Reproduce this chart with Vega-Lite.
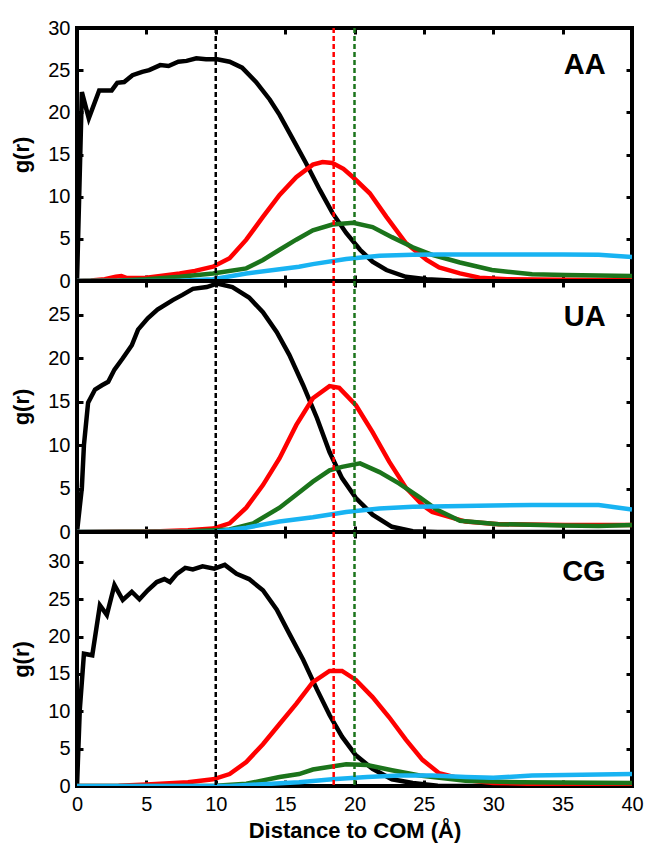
{
  "$schema": "https://vega.github.io/schema/vega-lite/v6.json",
  "padding": {"left": 8, "top": 16, "right": 4, "bottom": 4},
  "spacing": 0,
  "bounds": "flush",
  "config": {
    "font": "Liberation Sans",
    "view": {"stroke": "black", "strokeWidth": 4},
    "axis": {"grid": false, "domain": false, "tickSize": -6, "tickWidth": 3, "tickColor": "black", "labelFlush": false, "labelOverlap": false, "labelColor": "black", "labelFontSize": 20, "titleColor": "black", "titleFontSize": 22, "titleFontWeight": "bold"}
  },
  "datasets": {
    "curves": [
      {"p":"AA","s":"s1","r":0,"g":0},{"p":"AA","s":"s1","r":0.35,"g":22.4},{"p":"AA","s":"s1","r":0.85,"g":19.3},{"p":"AA","s":"s1","r":1.6,"g":22.6},{"p":"AA","s":"s1","r":2.5,"g":22.6},{"p":"AA","s":"s1","r":2.9,"g":23.5},{"p":"AA","s":"s1","r":3.4,"g":23.6},{"p":"AA","s":"s1","r":4.0,"g":24.4},{"p":"AA","s":"s1","r":4.7,"g":24.8},{"p":"AA","s":"s1","r":5.2,"g":25.0},{"p":"AA","s":"s1","r":6.0,"g":25.6},{"p":"AA","s":"s1","r":6.6,"g":25.5},{"p":"AA","s":"s1","r":7.3,"g":26.0},{"p":"AA","s":"s1","r":7.9,"g":26.1},{"p":"AA","s":"s1","r":8.6,"g":26.4},{"p":"AA","s":"s1","r":9.3,"g":26.3},{"p":"AA","s":"s1","r":10.1,"g":26.3},{"p":"AA","s":"s1","r":11.0,"g":26.0},{"p":"AA","s":"s1","r":11.9,"g":25.3},{"p":"AA","s":"s1","r":12.9,"g":23.6},{"p":"AA","s":"s1","r":13.9,"g":21.5},{"p":"AA","s":"s1","r":14.6,"g":19.7},{"p":"AA","s":"s1","r":15.5,"g":17.0},{"p":"AA","s":"s1","r":16.5,"g":14.0},{"p":"AA","s":"s1","r":17.5,"g":10.8},{"p":"AA","s":"s1","r":18.4,"g":8.1},{"p":"AA","s":"s1","r":19.4,"g":5.7},{"p":"AA","s":"s1","r":20.4,"g":3.7},{"p":"AA","s":"s1","r":21.3,"g":2.3},{"p":"AA","s":"s1","r":22.3,"g":1.3},{"p":"AA","s":"s1","r":23.7,"g":0.5},{"p":"AA","s":"s1","r":25.2,"g":0.2},{"p":"AA","s":"s1","r":27,"g":0.05},{"p":"AA","s":"s1","r":30,"g":0},{"p":"AA","s":"s1","r":40,"g":0},
      {"p":"AA","s":"s2","r":0,"g":0},{"p":"AA","s":"s2","r":1,"g":0.05},{"p":"AA","s":"s2","r":2,"g":0.2},{"p":"AA","s":"s2","r":2.8,"g":0.5},{"p":"AA","s":"s2","r":3.2,"g":0.6},{"p":"AA","s":"s2","r":3.6,"g":0.35},{"p":"AA","s":"s2","r":5,"g":0.4},{"p":"AA","s":"s2","r":6,"g":0.6},{"p":"AA","s":"s2","r":7.4,"g":0.9},{"p":"AA","s":"s2","r":8.5,"g":1.2},{"p":"AA","s":"s2","r":9.8,"g":1.7},{"p":"AA","s":"s2","r":11.0,"g":2.7},{"p":"AA","s":"s2","r":12.2,"g":4.9},{"p":"AA","s":"s2","r":13.4,"g":7.6},{"p":"AA","s":"s2","r":14.6,"g":10.2},{"p":"AA","s":"s2","r":15.8,"g":12.3},{"p":"AA","s":"s2","r":17.0,"g":13.8},{"p":"AA","s":"s2","r":17.7,"g":14.1},{"p":"AA","s":"s2","r":18.4,"g":14.0},{"p":"AA","s":"s2","r":19.2,"g":13.3},{"p":"AA","s":"s2","r":19.9,"g":12.3},{"p":"AA","s":"s2","r":21.1,"g":10.4},{"p":"AA","s":"s2","r":22.3,"g":7.6},{"p":"AA","s":"s2","r":23.7,"g":4.5},{"p":"AA","s":"s2","r":25.2,"g":2.5},{"p":"AA","s":"s2","r":26.1,"g":1.6},{"p":"AA","s":"s2","r":27.6,"g":0.9},{"p":"AA","s":"s2","r":29,"g":0.4},{"p":"AA","s":"s2","r":31,"g":0.2},{"p":"AA","s":"s2","r":35,"g":0.15},{"p":"AA","s":"s2","r":40,"g":0.1},
      {"p":"AA","s":"s3","r":0,"g":0},{"p":"AA","s":"s3","r":3,"g":0.05},{"p":"AA","s":"s3","r":5,"g":0.2},{"p":"AA","s":"s3","r":7.4,"g":0.5},{"p":"AA","s":"s3","r":9.8,"g":0.9},{"p":"AA","s":"s3","r":12.2,"g":1.5},{"p":"AA","s":"s3","r":13.4,"g":2.5},{"p":"AA","s":"s3","r":14.6,"g":3.7},{"p":"AA","s":"s3","r":15.8,"g":4.9},{"p":"AA","s":"s3","r":17.0,"g":6.0},{"p":"AA","s":"s3","r":18.4,"g":6.7},{"p":"AA","s":"s3","r":19.9,"g":6.9},{"p":"AA","s":"s3","r":21.3,"g":6.4},{"p":"AA","s":"s3","r":22.7,"g":5.2},{"p":"AA","s":"s3","r":24.2,"g":4.0},{"p":"AA","s":"s3","r":25.6,"g":3.1},{"p":"AA","s":"s3","r":27.6,"g":2.2},{"p":"AA","s":"s3","r":29.9,"g":1.3},{"p":"AA","s":"s3","r":32.8,"g":0.8},{"p":"AA","s":"s3","r":35.2,"g":0.7},{"p":"AA","s":"s3","r":40,"g":0.6},
      {"p":"AA","s":"s4","r":0,"g":0},{"p":"AA","s":"s4","r":7,"g":0},{"p":"AA","s":"s4","r":9.8,"g":0.2},{"p":"AA","s":"s4","r":12.2,"g":0.9},{"p":"AA","s":"s4","r":14.6,"g":1.4},{"p":"AA","s":"s4","r":16,"g":1.7},{"p":"AA","s":"s4","r":17.0,"g":2.0},{"p":"AA","s":"s4","r":19.4,"g":2.6},{"p":"AA","s":"s4","r":21.8,"g":3.0},{"p":"AA","s":"s4","r":24.2,"g":3.1},{"p":"AA","s":"s4","r":26,"g":3.15},{"p":"AA","s":"s4","r":30,"g":3.15},{"p":"AA","s":"s4","r":35,"g":3.15},{"p":"AA","s":"s4","r":37.6,"g":3.1},{"p":"AA","s":"s4","r":40,"g":2.85},

      {"p":"UA","s":"s1","r":0,"g":0},{"p":"UA","s":"s1","r":0.35,"g":5.1},{"p":"UA","s":"s1","r":0.5,"g":10.0},{"p":"UA","s":"s1","r":0.8,"g":14.9},{"p":"UA","s":"s1","r":1.3,"g":16.4},{"p":"UA","s":"s1","r":1.8,"g":16.9},{"p":"UA","s":"s1","r":2.25,"g":17.3},{"p":"UA","s":"s1","r":2.7,"g":18.7},{"p":"UA","s":"s1","r":3.3,"g":20.0},{"p":"UA","s":"s1","r":3.95,"g":21.5},{"p":"UA","s":"s1","r":4.4,"g":23.3},{"p":"UA","s":"s1","r":5.1,"g":24.6},{"p":"UA","s":"s1","r":5.8,"g":25.6},{"p":"UA","s":"s1","r":6.9,"g":26.7},{"p":"UA","s":"s1","r":7.6,"g":27.3},{"p":"UA","s":"s1","r":8.35,"g":28.0},{"p":"UA","s":"s1","r":9.35,"g":28.2},{"p":"UA","s":"s1","r":10.1,"g":28.6},{"p":"UA","s":"s1","r":11.2,"g":28.2},{"p":"UA","s":"s1","r":12.4,"g":27.0},{"p":"UA","s":"s1","r":13.4,"g":25.3},{"p":"UA","s":"s1","r":14.4,"g":23.0},{"p":"UA","s":"s1","r":15.3,"g":20.4},{"p":"UA","s":"s1","r":16.3,"g":16.9},{"p":"UA","s":"s1","r":17.3,"g":13.1},{"p":"UA","s":"s1","r":18.2,"g":9.2},{"p":"UA","s":"s1","r":19.1,"g":6.2},{"p":"UA","s":"s1","r":20.1,"g":3.9},{"p":"UA","s":"s1","r":21.3,"g":2.0},{"p":"UA","s":"s1","r":22.7,"g":0.6},{"p":"UA","s":"s1","r":24.2,"g":0.1},{"p":"UA","s":"s1","r":26,"g":0},{"p":"UA","s":"s1","r":40,"g":0},
      {"p":"UA","s":"s2","r":0,"g":0},{"p":"UA","s":"s2","r":3,"g":0.05},{"p":"UA","s":"s2","r":6,"g":0.1},{"p":"UA","s":"s2","r":8,"g":0.2},{"p":"UA","s":"s2","r":9.8,"g":0.4},{"p":"UA","s":"s2","r":11.0,"g":1.0},{"p":"UA","s":"s2","r":12.2,"g":2.8},{"p":"UA","s":"s2","r":13.4,"g":5.4},{"p":"UA","s":"s2","r":14.6,"g":8.5},{"p":"UA","s":"s2","r":15.8,"g":12.3},{"p":"UA","s":"s2","r":17.0,"g":15.4},{"p":"UA","s":"s2","r":18.2,"g":16.8},{"p":"UA","s":"s2","r":18.9,"g":16.6},{"p":"UA","s":"s2","r":20.1,"g":14.6},{"p":"UA","s":"s2","r":21.3,"g":11.5},{"p":"UA","s":"s2","r":22.5,"g":8.1},{"p":"UA","s":"s2","r":23.7,"g":5.1},{"p":"UA","s":"s2","r":24.9,"g":3.1},{"p":"UA","s":"s2","r":25.6,"g":2.3},{"p":"UA","s":"s2","r":28,"g":1.2},{"p":"UA","s":"s2","r":30.4,"g":0.9},{"p":"UA","s":"s2","r":35.2,"g":0.8},{"p":"UA","s":"s2","r":40,"g":0.8},
      {"p":"UA","s":"s3","r":0,"g":0},{"p":"UA","s":"s3","r":8,"g":0.05},{"p":"UA","s":"s3","r":11,"g":0.3},{"p":"UA","s":"s3","r":12.7,"g":1.0},{"p":"UA","s":"s3","r":14.6,"g":2.8},{"p":"UA","s":"s3","r":15.8,"g":4.3},{"p":"UA","s":"s3","r":17.0,"g":5.8},{"p":"UA","s":"s3","r":18.2,"g":7.1},{"p":"UA","s":"s3","r":19.1,"g":7.5},{"p":"UA","s":"s3","r":20.4,"g":7.9},{"p":"UA","s":"s3","r":21.8,"g":6.9},{"p":"UA","s":"s3","r":23.2,"g":5.6},{"p":"UA","s":"s3","r":24.7,"g":4.0},{"p":"UA","s":"s3","r":25.9,"g":2.6},{"p":"UA","s":"s3","r":27.6,"g":1.3},{"p":"UA","s":"s3","r":30.4,"g":0.9},{"p":"UA","s":"s3","r":35,"g":0.75},{"p":"UA","s":"s3","r":37.6,"g":0.7},{"p":"UA","s":"s3","r":40,"g":0.8},
      {"p":"UA","s":"s4","r":0,"g":0},{"p":"UA","s":"s4","r":9.8,"g":0},{"p":"UA","s":"s4","r":12.2,"g":0.5},{"p":"UA","s":"s4","r":14.6,"g":1.2},{"p":"UA","s":"s4","r":17.0,"g":1.7},{"p":"UA","s":"s4","r":19.4,"g":2.3},{"p":"UA","s":"s4","r":21.8,"g":2.7},{"p":"UA","s":"s4","r":24.2,"g":2.9},{"p":"UA","s":"s4","r":25.6,"g":2.95},{"p":"UA","s":"s4","r":30,"g":3.05},{"p":"UA","s":"s4","r":32.8,"g":3.1},{"p":"UA","s":"s4","r":37.6,"g":3.1},{"p":"UA","s":"s4","r":40,"g":2.6},

      {"p":"CG","s":"s1","r":0,"g":0},{"p":"CG","s":"s1","r":0.2,"g":10.2},{"p":"CG","s":"s1","r":0.5,"g":17.7},{"p":"CG","s":"s1","r":1.1,"g":17.5},{"p":"CG","s":"s1","r":1.65,"g":24.2},{"p":"CG","s":"s1","r":2.15,"g":22.9},{"p":"CG","s":"s1","r":2.7,"g":26.9},{"p":"CG","s":"s1","r":3.3,"g":24.9},{"p":"CG","s":"s1","r":3.95,"g":26.0},{"p":"CG","s":"s1","r":4.5,"g":25.0},{"p":"CG","s":"s1","r":5.1,"g":26.2},{"p":"CG","s":"s1","r":5.75,"g":27.3},{"p":"CG","s":"s1","r":6.3,"g":27.7},{"p":"CG","s":"s1","r":6.7,"g":27.3},{"p":"CG","s":"s1","r":7.2,"g":28.4},{"p":"CG","s":"s1","r":7.8,"g":29.2},{"p":"CG","s":"s1","r":8.35,"g":29.0},{"p":"CG","s":"s1","r":9.05,"g":29.4},{"p":"CG","s":"s1","r":9.9,"g":29.1},{"p":"CG","s":"s1","r":10.65,"g":29.6},{"p":"CG","s":"s1","r":11.5,"g":28.4},{"p":"CG","s":"s1","r":12.4,"g":27.7},{"p":"CG","s":"s1","r":13.4,"g":26.2},{"p":"CG","s":"s1","r":14.4,"g":23.6},{"p":"CG","s":"s1","r":15.3,"g":20.4},{"p":"CG","s":"s1","r":16.3,"g":16.9},{"p":"CG","s":"s1","r":17.3,"g":12.9},{"p":"CG","s":"s1","r":18.2,"g":9.5},{"p":"CG","s":"s1","r":19.1,"g":6.6},{"p":"CG","s":"s1","r":20.1,"g":4.1},{"p":"CG","s":"s1","r":21.3,"g":2.3},{"p":"CG","s":"s1","r":22.7,"g":0.9},{"p":"CG","s":"s1","r":24.2,"g":0.4},{"p":"CG","s":"s1","r":26,"g":0.05},{"p":"CG","s":"s1","r":28,"g":0},{"p":"CG","s":"s1","r":40,"g":0},
      {"p":"CG","s":"s2","r":0,"g":0},{"p":"CG","s":"s2","r":3,"g":0.05},{"p":"CG","s":"s2","r":5,"g":0.2},{"p":"CG","s":"s2","r":8,"g":0.5},{"p":"CG","s":"s2","r":9.8,"g":0.9},{"p":"CG","s":"s2","r":11.0,"g":1.6},{"p":"CG","s":"s2","r":12.2,"g":3.2},{"p":"CG","s":"s2","r":13.4,"g":5.6},{"p":"CG","s":"s2","r":14.6,"g":8.3},{"p":"CG","s":"s2","r":15.8,"g":11.0},{"p":"CG","s":"s2","r":17.0,"g":13.9},{"p":"CG","s":"s2","r":18.2,"g":15.4},{"p":"CG","s":"s2","r":19.1,"g":15.4},{"p":"CG","s":"s2","r":20.1,"g":14.2},{"p":"CG","s":"s2","r":21.3,"g":11.9},{"p":"CG","s":"s2","r":22.5,"g":9.2},{"p":"CG","s":"s2","r":23.7,"g":6.2},{"p":"CG","s":"s2","r":24.9,"g":3.5},{"p":"CG","s":"s2","r":26.1,"g":1.7},{"p":"CG","s":"s2","r":28,"g":0.8},{"p":"CG","s":"s2","r":30,"g":0.4},{"p":"CG","s":"s2","r":35,"g":0.2},{"p":"CG","s":"s2","r":40,"g":0.2},
      {"p":"CG","s":"s3","r":0,"g":0},{"p":"CG","s":"s3","r":10,"g":0.05},{"p":"CG","s":"s3","r":12.2,"g":0.3},{"p":"CG","s":"s3","r":14.6,"g":1.2},{"p":"CG","s":"s3","r":16,"g":1.6},{"p":"CG","s":"s3","r":17.0,"g":2.2},{"p":"CG","s":"s3","r":19.4,"g":2.9},{"p":"CG","s":"s3","r":20.9,"g":2.8},{"p":"CG","s":"s3","r":22.7,"g":2.1},{"p":"CG","s":"s3","r":24.7,"g":1.4},{"p":"CG","s":"s3","r":28,"g":0.7},{"p":"CG","s":"s3","r":32,"g":0.5},{"p":"CG","s":"s3","r":40,"g":0.4},
      {"p":"CG","s":"s4","r":0,"g":0},{"p":"CG","s":"s4","r":11,"g":0},{"p":"CG","s":"s4","r":13,"g":0.2},{"p":"CG","s":"s4","r":16,"g":0.5},{"p":"CG","s":"s4","r":18.4,"g":0.9},{"p":"CG","s":"s4","r":20.9,"g":1.2},{"p":"CG","s":"s4","r":23.2,"g":1.4},{"p":"CG","s":"s4","r":25.6,"g":1.4},{"p":"CG","s":"s4","r":28,"g":1.2},{"p":"CG","s":"s4","r":30,"g":1.1},{"p":"CG","s":"s4","r":32.8,"g":1.4},{"p":"CG","s":"s4","r":36.4,"g":1.5},{"p":"CG","s":"s4","r":40,"g":1.6}
    ],
    "refs": [{"s":"s1","r":10},{"s":"s2","r":18.5},{"s":"s3","r":20}],
    "labels": [{"p":"AA","r":38.1,"g":25.6},{"p":"UA","r":38.1,"g":24.7},{"p":"CG","r":38.1,"g":28.6}]
  },
  "vconcat": [
    {
      "width": 555, "height": 253,
      "resolve": {"axis": {"x": "independent", "y": "independent"}},
      "layer": [
        {"data": {"name": "curves"}, "transform": [{"filter": "datum.p === 'AA'"}],
         "mark": {"type": "line", "strokeWidth": 4.5, "clip": true},
         "encoding": {
           "x": {"field": "r", "type": "quantitative", "scale": {"domain": [0, 40]}, "axis": {"orient": "bottom", "values": [0,5,10,15,20,25,30,35,40], "labels": false, "title": null}},
           "y": {"field": "g", "type": "quantitative", "scale": {"domain": [0, 30]}, "axis": {"orient": "left", "values": [0,5,10,15,20,25,30], "labelPadding": 13, "title": "g(r)", "titlePadding": 14}},
           "color": {"field": "s", "type": "nominal", "scale": {"domain": ["s1","s2","s3","s4"], "range": ["#000000","#ff0000","#1b741b","#18b3f2"]}, "legend": null}
         }},
        {"data": {"name": "refs"},
         "mark": {"type": "rule", "strokeDash": [5, 3], "strokeWidth": 2.5},
         "encoding": {
           "x": {"field": "r", "type": "quantitative", "axis": null},
           "color": {"field": "s", "type": "nominal", "legend": null}
         }},
        {"data": {"name": "labels"}, "transform": [{"filter": "datum.p === 'AA'"}],
         "mark": {"type": "text", "align": "right", "baseline": "middle", "fontSize": 29, "fontWeight": "bold", "color": "black"},
         "encoding": {
           "x": {"field": "r", "type": "quantitative", "axis": {"orient": "top", "values": [0,5,10,15,20,25,30,35,40], "labels": false, "title": null}},
           "y": {"field": "g", "type": "quantitative", "axis": {"orient": "right", "values": [0,5,10,15,20,25,30], "labels": false, "title": null}},
           "text": {"field": "p"}
         }}
      ]
    },
    {
      "width": 555, "height": 251,
      "resolve": {"axis": {"x": "independent", "y": "independent"}},
      "layer": [
        {"data": {"name": "curves"}, "transform": [{"filter": "datum.p === 'UA'"}],
         "mark": {"type": "line", "strokeWidth": 4.5, "clip": true},
         "encoding": {
           "x": {"field": "r", "type": "quantitative", "scale": {"domain": [0, 40]}, "axis": {"orient": "bottom", "values": [0,5,10,15,20,25,30,35,40], "labels": false, "title": null}},
           "y": {"field": "g", "type": "quantitative", "scale": {"domain": [0, 28.9], "nice": false}, "axis": {"orient": "left", "values": [0,5,10,15,20,25], "labelPadding": 13, "title": "g(r)", "titlePadding": 14}},
           "color": {"field": "s", "type": "nominal", "scale": {"domain": ["s1","s2","s3","s4"], "range": ["#000000","#ff0000","#1b741b","#18b3f2"]}, "legend": null}
         }},
        {"data": {"name": "refs"},
         "mark": {"type": "rule", "strokeDash": [5, 3], "strokeWidth": 2.5},
         "encoding": {
           "x": {"field": "r", "type": "quantitative", "axis": null},
           "color": {"field": "s", "type": "nominal", "legend": null}
         }},
        {"data": {"name": "labels"}, "transform": [{"filter": "datum.p === 'UA'"}],
         "mark": {"type": "text", "align": "right", "baseline": "middle", "fontSize": 29, "fontWeight": "bold", "color": "black"},
         "encoding": {
           "x": {"field": "r", "type": "quantitative", "axis": {"orient": "top", "values": [0,5,10,15,20,25,30,35,40], "labels": false, "title": null}},
           "y": {"field": "g", "type": "quantitative", "axis": {"orient": "right", "values": [0,5,10,15,20,25], "labels": false, "title": null}},
           "text": {"field": "p"}
         }}
      ]
    },
    {
      "width": 555, "height": 254,
      "resolve": {"axis": {"x": "independent", "y": "independent"}},
      "layer": [
        {"data": {"name": "curves"}, "transform": [{"filter": "datum.p === 'CG'"}],
         "mark": {"type": "line", "strokeWidth": 4.5, "clip": true},
         "encoding": {
           "x": {"field": "r", "type": "quantitative", "scale": {"domain": [0, 40]}, "axis": {"orient": "bottom", "values": [0,5,10,15,20,25,30,35,40], "labelPadding": 14, "title": "Distance to COM (Å)", "titlePadding": 6}},
           "y": {"field": "g", "type": "quantitative", "scale": {"domain": [0, 34], "nice": false}, "axis": {"orient": "left", "values": [0,5,10,15,20,25,30], "labelPadding": 13, "title": "g(r)", "titlePadding": 14}},
           "color": {"field": "s", "type": "nominal", "scale": {"domain": ["s1","s2","s3","s4"], "range": ["#000000","#ff0000","#1b741b","#18b3f2"]}, "legend": null}
         }},
        {"data": {"name": "refs"},
         "mark": {"type": "rule", "strokeDash": [5, 3], "strokeWidth": 2.5},
         "encoding": {
           "x": {"field": "r", "type": "quantitative", "axis": null},
           "color": {"field": "s", "type": "nominal", "legend": null}
         }},
        {"data": {"name": "labels"}, "transform": [{"filter": "datum.p === 'CG'"}],
         "mark": {"type": "text", "align": "right", "baseline": "middle", "fontSize": 29, "fontWeight": "bold", "color": "black"},
         "encoding": {
           "x": {"field": "r", "type": "quantitative", "axis": {"orient": "top", "values": [0,5,10,15,20,25,30,35,40], "labels": false, "title": null}},
           "y": {"field": "g", "type": "quantitative", "axis": {"orient": "right", "values": [0,5,10,15,20,25,30], "labels": false, "title": null}},
           "text": {"field": "p"}
         }}
      ]
    }
  ]
}
